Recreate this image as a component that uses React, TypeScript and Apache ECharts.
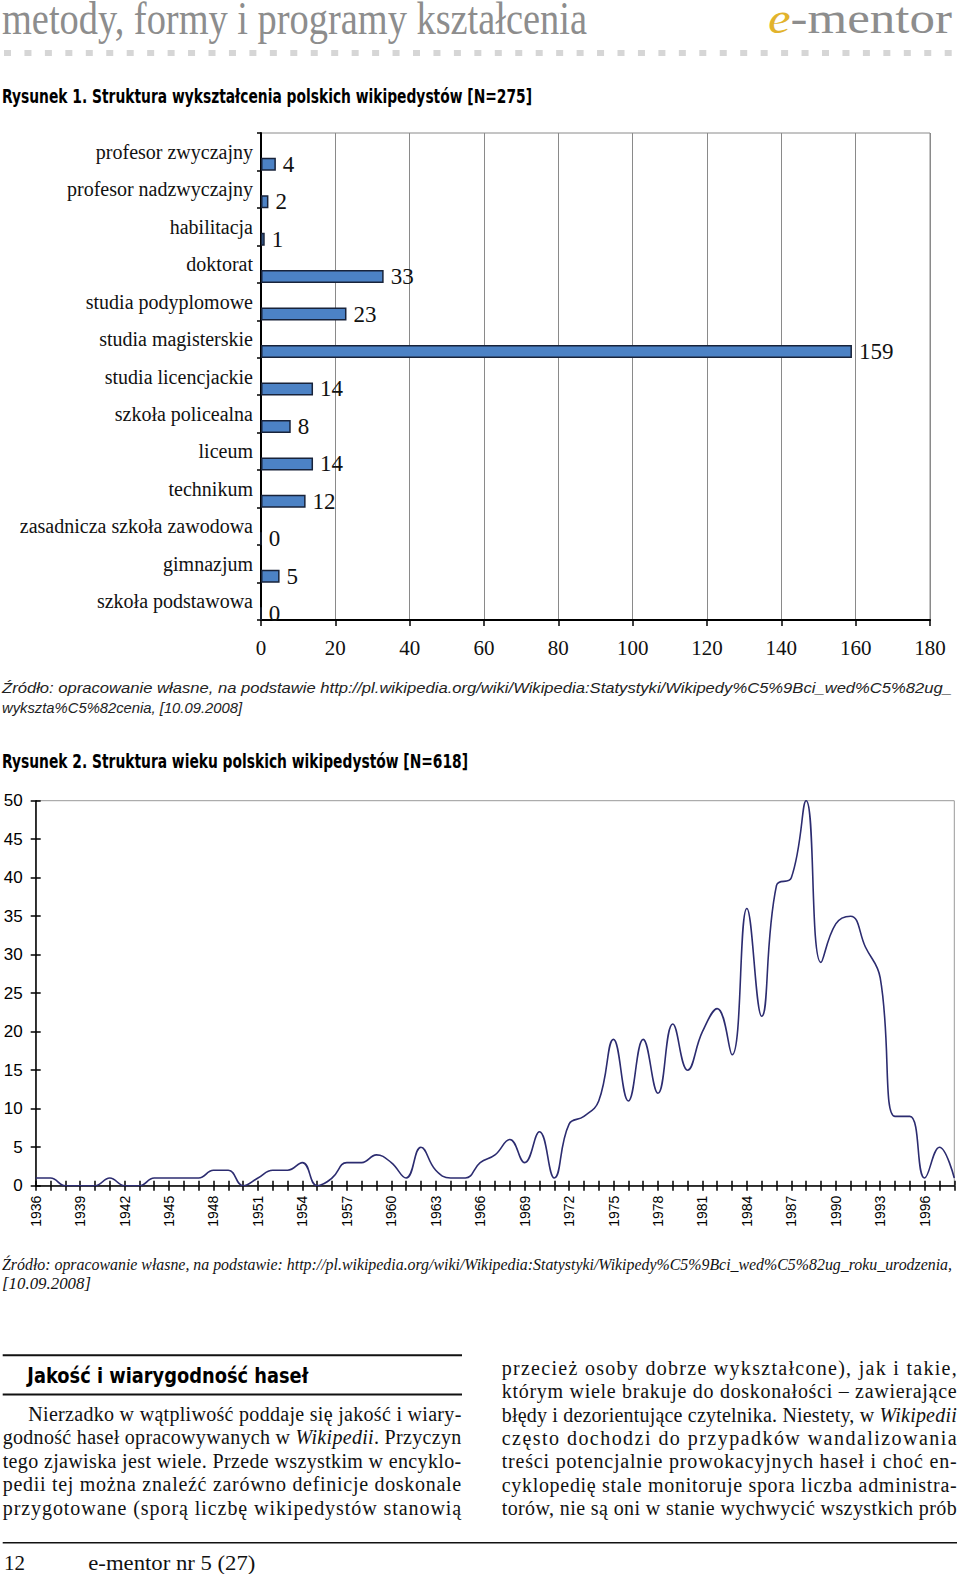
import React, { useEffect, useRef } from "react";
import * as echarts from "echarts";

const SERIF = '"Liberation Serif", "Times New Roman", serif';
const SANS = '"Liberation Sans", Arial, sans-serif';
const HEAVY = '"DejaVu Sans", sans-serif';

// ---- Chart 1 data ----
const eduCategories = [
  "profesor zwyczajny",
  "profesor nadzwyczajny",
  "habilitacja",
  "doktorat",
  "studia podyplomowe",
  "studia magisterskie",
  "studia licencjackie",
  "szkoła policealna",
  "liceum",
  "technikum",
  "zasadnicza szkoła zawodowa",
  "gimnazjum",
  "szkoła podstawowa",
];
const eduValues = [4, 2, 1, 33, 23, 159, 14, 8, 14, 12, 0, 5, 0];
const eduAxisMin = 0;
const eduAxisMax = 180;
const eduAxisStep = 20;

// ---- Chart 2 data ----
const birthYears = [
  "1936", "1937", "1938", "1939", "1940", "1941", "1942", "1943", "1944", "1945",
  "1946", "1947", "1948", "1949", "1950", "1951", "1952", "1953", "1954", "1955",
  "1956", "1957", "1958", "1959", "1960", "1961", "1962", "1963", "1964", "1965",
  "1966", "1967", "1968", "1969", "1970", "1971", "1972", "1973", "1974", "1975",
  "1976", "1977", "1978", "1979", "1980", "1981", "1982", "1983", "1984", "1985",
  "1986", "1987", "1988", "1989", "1990", "1991", "1992", "1993", "1994", "1995",
  "1996", "1997", "1998",
];
const birthCounts = [
  1, 1, 0, 0, 0, 1, 0, 0, 1, 1, 1, 1, 2, 2, 0, 1, 2, 2, 3, 0,
  1, 3, 3, 4, 3, 1, 5, 2, 1, 1, 3, 4, 6, 3, 7, 1, 8, 9, 11, 19, 11, 19,
  12, 21, 15, 20, 23, 17, 36, 22, 39, 40, 50, 29, 34, 35, 31, 27, 9, 9, 1, 5, 1,
];
const ageAxisMax = 50;
const ageAxisStep = 5;

// ---- Page text ----
const headerTitle = "metody, formy i programy kształcenia";
const fig1Title = "Rysunek 1. Struktura wykształcenia polskich wikipedystów [N=275]";
const fig1Source = [
  "Źródło: opracowanie własne, na podstawie http://pl.wikipedia.org/wiki/Wikipedia:Statystyki/Wikipedy%C5%9Bci_wed%C5%82ug_",
  "wykszta%C5%82cenia, [10.09.2008]",
];
const fig2Title = "Rysunek 2. Struktura wieku polskich wikipedystów [N=618]";
const fig2Source = [
  "Źródło: opracowanie własne, na podstawie: http://pl.wikipedia.org/wiki/Wikipedia:Statystyki/Wikipedy%C5%9Bci_wed%C5%82ug_roku_urodzenia,",
  "[10.09.2008]",
];
const sectionHeading = "Jakość i wiarygodność haseł";
const leftLines = [
  "Nierzadko w wątpliwość poddaje się jakość i wiary-",
  "godność haseł opracowywanych w *Wikipedii*. Przyczyn",
  "tego zjawiska jest wiele. Przede wszystkim w encyklo-",
  "pedii tej można znaleźć zarówno definicje doskonale",
  "przygotowane (sporą liczbę wikipedystów stanowią",
];
const rightLines = [
  "przecież osoby dobrze wykształcone), jak i takie,",
  "którym wiele brakuje do doskonałości – zawierające",
  "błędy i dezorientujące czytelnika. Niestety, w *Wikipedii*",
  "często dochodzi do przypadków wandalizowania",
  "treści potencjalnie prowokacyjnych haseł i choć en-",
  "cyklopedię stale monitoruje spora liczba administra-",
  "torów, nie są oni w stanie wychwycić wszystkich prób",
];
const footerPage = "12";
const footerIssue = "e-mentor nr 5 (27)";

function EChart({ option, style }: { option: any; style: React.CSSProperties }) {
  const ref = useRef<HTMLDivElement>(null);
  useEffect(() => {
    const chart = echarts.init(ref.current!, null, { renderer: "svg" });
    chart.setOption(option);
    return () => chart.dispose();
  }, []);
  return <div ref={ref} style={style} />;
}

const chart1Option = {
  animation: false,
  grid: {
    left: 261,
    right: 30,
    top: 13,
    bottom: 50,
    show: true,
    borderColor: "#8a8a8a",
    borderWidth: 1,
    backgroundColor: "transparent",
  },
  xAxis: {
    type: "value",
    min: eduAxisMin,
    max: eduAxisMax,
    interval: eduAxisStep,
    axisLine: { show: true, lineStyle: { color: "#000", width: 2 } },
    axisTick: { show: true, length: 6, lineStyle: { color: "#000", width: 1.5 } },
    axisLabel: { fontFamily: SERIF, fontSize: 21, color: "#111", margin: 17 },
    splitLine: { show: true, lineStyle: { color: "#8a8a8a", width: 1 } },
  },
  yAxis: {
    type: "category",
    inverse: true,
    data: eduCategories,
    axisLine: { show: true, lineStyle: { color: "#000", width: 2 } },
    axisTick: { show: true, length: 4, lineStyle: { color: "#000", width: 1.5 } },
    axisLabel: { fontFamily: SERIF, fontSize: 20, color: "#111", margin: 8 },
    splitLine: { show: false },
  },
  series: [
    {
      type: "bar",
      data: eduValues.map(() => 0),
      barWidth: 13,
      barGap: "92%",
      silent: true,
      itemStyle: { color: "transparent", borderWidth: 0 },
      label: { show: false },
    },
    {
      type: "bar",
      data: eduValues,
      barWidth: 13,
      barGap: "92%",
      itemStyle: { color: "#4c82c5", borderColor: "#18233a", borderWidth: 1.5 },
      label: {
        show: true,
        position: "right",
        distance: 7,
        fontFamily: SERIF,
        fontSize: 23,
        color: "#111",
      },
    },
  ],
};

const chart2Option = {
  animation: false,
  grid: {
    left: 35.7,
    right: 5.7,
    top: 15.7,
    bottom: 49.3,
    show: true,
    borderColor: "#999",
    borderWidth: 1,
    backgroundColor: "transparent",
  },
  xAxis: [
    {
      type: "category",
      data: birthYears,
      boundaryGap: false,
      axisLine: { show: true, lineStyle: { color: "#000", width: 1.5 } },
      axisTick: { show: true, interval: 0, length: 5, lineStyle: { color: "#000", width: 1.5 } },
      axisLabel: { interval: 2, rotate: 90, fontFamily: SANS, fontSize: 14, color: "#000", margin: 10 },
      splitLine: { show: false },
    },
    {
      type: "category",
      data: birthYears,
      boundaryGap: false,
      position: "bottom",
      offset: 0,
      axisLine: { show: false },
      axisTick: { show: true, inside: true, interval: 0, length: 5, lineStyle: { color: "#000", width: 1.5 } },
      axisLabel: { show: false },
      splitLine: { show: false },
    },
  ],
  yAxis: [
    {
      type: "value",
      min: 0,
      max: ageAxisMax,
      interval: ageAxisStep,
      axisLine: { show: true, lineStyle: { color: "#000", width: 1.5 } },
      axisTick: { show: true, length: 5, lineStyle: { color: "#000", width: 1.5 } },
      axisLabel: { fontFamily: SANS, fontSize: 17, color: "#000", margin: 13 },
      splitLine: { show: false },
    },
    {
      type: "value",
      min: 0,
      max: ageAxisMax,
      interval: ageAxisStep,
      position: "left",
      offset: 0,
      axisLine: { show: false },
      axisTick: { show: true, inside: true, length: 5, lineStyle: { color: "#000", width: 1.5 } },
      axisLabel: { show: false },
      splitLine: { show: false },
    },
  ],
  series: [
    {
      type: "line",
      data: birthCounts,
      xAxisIndex: 0,
      yAxisIndex: 0,
      smooth: 0.45,
      symbol: "none",
      showSymbol: false,
      lineStyle: { color: "#2c2c70", width: 1.6 },
    },
  ],
};

function RichLine({ text }: { text: string }) {
  const parts = text.split("*");
  return (
    <>
      {parts.map((p, i) => (
        <tspan key={i} fontStyle={i % 2 === 1 ? "italic" : "normal"}>
          {p}
        </tspan>
      ))}
    </>
  );
}

const dots = Array.from({ length: 47 }, (_, i) => i);

export default function App() {
  return (
    <div
      style={{
        position: "absolute",
        left: 0,
        top: 0,
        width: 960,
        height: 1574,
        background: "#fff",
        overflow: "hidden",
      }}
    >
      <svg
        width={960}
        height={1574}
        style={{ position: "absolute", left: 0, top: 0 }}
        xmlns="http://www.w3.org/2000/svg"
      >
        {/* header */}
        <text x={2} y={34} fontFamily={SERIF} fontSize={46} fill="#8d8d8d" textLength={585} lengthAdjust="spacingAndGlyphs">
          {headerTitle}
        </text>
        <text x={768} y={33} fontFamily={SERIF} fontSize={45} textLength={184} lengthAdjust="spacingAndGlyphs">
          <tspan fill="#e2b32c" fontStyle="italic">e</tspan>
          <tspan fill="#8d8d8d">-mentor</tspan>
        </text>
        {dots.map((i) => (
          <rect key={i} x={4 + i * 20.45} y={50} width={7} height={6} fill="#d6d6d6" />
        ))}

        {/* figure 1 */}
        <text x={2} y={103} fontFamily={HEAVY} fontWeight="bold" fontSize={20} fill="#000" textLength={530} lengthAdjust="spacingAndGlyphs">
          {fig1Title}
        </text>
        <text x={2} y={693} fontFamily={SANS} fontStyle="italic" fontSize={15} fill="#222" textLength={950} lengthAdjust="spacingAndGlyphs">
          {fig1Source[0]}
        </text>
        <text x={2} y={713} fontFamily={SANS} fontStyle="italic" fontSize={15} fill="#222" textLength={240} lengthAdjust="spacingAndGlyphs">
          {fig1Source[1]}
        </text>

        {/* figure 2 */}
        <text x={2} y={768} fontFamily={HEAVY} fontWeight="bold" fontSize={20} fill="#000" textLength={466} lengthAdjust="spacingAndGlyphs">
          {fig2Title}
        </text>
        <text x={2} y={1270} fontFamily={SERIF} fontStyle="italic" fontSize={16} fill="#111" textLength={950} lengthAdjust="spacingAndGlyphs">
          {fig2Source[0]}
        </text>
        <text x={2} y={1289} fontFamily={SERIF} fontStyle="italic" fontSize={16} fill="#111" textLength={89} lengthAdjust="spacingAndGlyphs">
          {fig2Source[1]}
        </text>

        {/* article section */}
        <line x1={2.7} x2={462} y1={1355.3} y2={1355.3} stroke="#111" strokeWidth={2} />
        <text x={27.3} y={1383.3} fontFamily={HEAVY} fontWeight="bold" fontSize={22} fill="#000" textLength={281} lengthAdjust="spacingAndGlyphs">
          {sectionHeading}
        </text>
        <line x1={2.7} x2={462} y1={1394.5} y2={1394.5} stroke="#111" strokeWidth={2} />
        {leftLines.map((l, i) => (
          <text
            key={i}
            x={i === 0 ? 28.3 : 2.7}
            y={1420.6 + i * 23.6}
            fontFamily={SERIF}
            fontSize={20}
            fill="#111"
            textLength={i === 0 ? 433 : 458.5}
            lengthAdjust="spacing"
          >
            <RichLine text={l} />
          </text>
        ))}
        {rightLines.map((l, i) => (
          <text
            key={i}
            x={501.7}
            y={1374.7 + i * 23.4}
            fontFamily={SERIF}
            fontSize={20}
            fill="#111"
            textLength={455}
            lengthAdjust="spacing"
          >
            <RichLine text={l} />
          </text>
        ))}
        <line x1={2.7} x2={957} y1={1542.7} y2={1542.7} stroke="#111" strokeWidth={1.5} />
        <text x={4} y={1570} fontFamily={SERIF} fontSize={21} fill="#111">
          {footerPage}
        </text>
        <text x={88.3} y={1570} fontFamily={SERIF} fontSize={21} fill="#111" textLength={167} lengthAdjust="spacingAndGlyphs">
          {footerIssue}
        </text>
      </svg>

      <EChart option={chart1Option} style={{ position: "absolute", left: 0, top: 120, width: 960, height: 550 }} />
      <EChart option={chart2Option} style={{ position: "absolute", left: 0, top: 785, width: 960, height: 450 }} />
    </div>
  );
}
